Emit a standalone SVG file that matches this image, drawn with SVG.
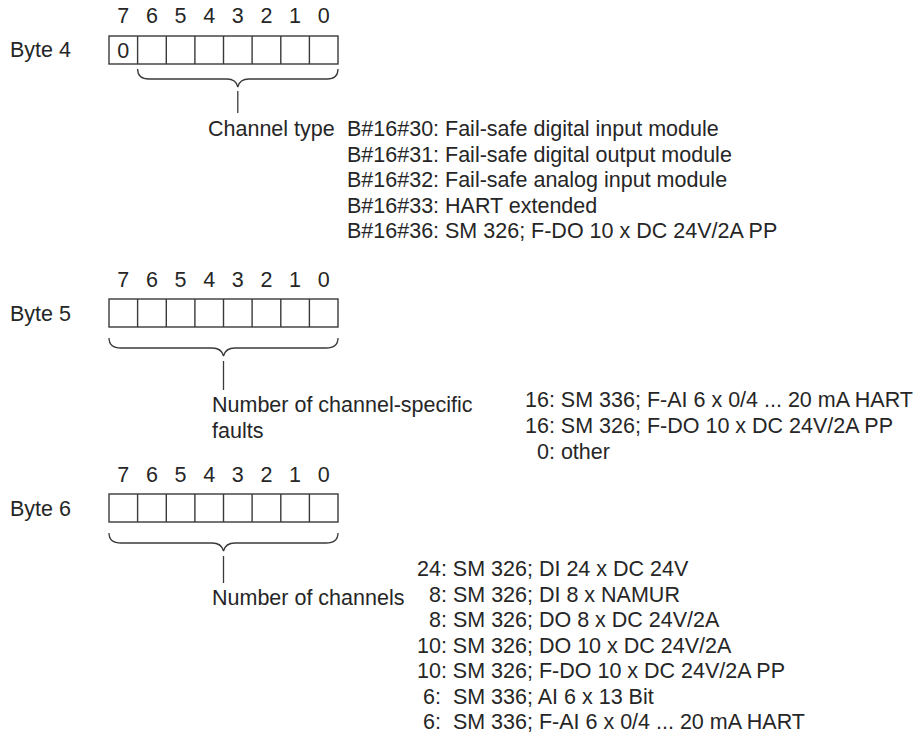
<svg xmlns="http://www.w3.org/2000/svg" width="919" height="737" viewBox="0 0 919 737">
<style>
text{font-family:"Liberation Sans",Arial,sans-serif;font-size:21.5px;fill:#262626}
.d{text-anchor:middle}
.box{fill:none;stroke:#3a3a3a;stroke-width:1.4}
.ln{fill:none;stroke:#3a3a3a;stroke-width:1.3}
</style>
<rect width="919" height="737" fill="#fff"/>
<g id="byte4">
<text x="10" y="57">Byte 4</text>
<g class="d"><text x="123.3" y="23">7</text><text x="151.9" y="23">6</text><text x="180.6" y="23">5</text><text x="209.2" y="23">4</text><text x="237.8" y="23">3</text><text x="266.4" y="23">2</text><text x="295.1" y="23">1</text><text x="323.7" y="23">0</text></g>
<rect class="box" x="109" y="36" width="229" height="28"/>
<path class="box" d="M137.6,36V64M166.3,36V64M194.9,36V64M223.5,36V64M252.1,36V64M280.8,36V64M309.4,36V64"/>
<text class="d" x="123.3" y="57.5">0</text>
</g>
<g id="byte4-desc">
<text x="208" y="136">Channel type</text>
<text x="347" y="136">B#16#30: Fail-safe digital input module</text>
<text x="347" y="161.5">B#16#31: Fail-safe digital output module</text>
<text x="347" y="187">B#16#32: Fail-safe analog input module</text>
<text x="347" y="212.5">B#16#33: HART extended</text>
<text x="347" y="238">B#16#36: SM 326; F-DO 10 x DC 24V/2A PP</text>
</g>
<g id="byte5">
<text x="10" y="320.5">Byte 5</text>
<g class="d"><text x="123.3" y="287">7</text><text x="151.9" y="287">6</text><text x="180.6" y="287">5</text><text x="209.2" y="287">4</text><text x="237.8" y="287">3</text><text x="266.4" y="287">2</text><text x="295.1" y="287">1</text><text x="323.7" y="287">0</text></g>
<rect class="box" x="109" y="299" width="229" height="28"/>
<path class="box" d="M137.6,299V327M166.3,299V327M194.9,299V327M223.5,299V327M252.1,299V327M280.8,299V327M309.4,299V327"/>
</g>
<g id="byte5-desc">
<text x="212" y="412">Number of channel-specific</text>
<text x="212" y="438">faults</text>
<text x="525" y="407">16: SM 336; F-AI 6 x 0/4 ... 20 mA HART</text>
<text x="525" y="433">16: SM 326; F-DO 10 x DC 24V/2A PP</text>
<text x="537" y="459">0: other</text>
</g>
<g id="byte6">
<text x="10" y="515.5">Byte 6</text>
<g class="d"><text x="123.3" y="482">7</text><text x="151.9" y="482">6</text><text x="180.6" y="482">5</text><text x="209.2" y="482">4</text><text x="237.8" y="482">3</text><text x="266.4" y="482">2</text><text x="295.1" y="482">1</text><text x="323.7" y="482">0</text></g>
<rect class="box" x="109" y="494" width="229" height="28"/>
<path class="box" d="M137.6,494V522M166.3,494V522M194.9,494V522M223.5,494V522M252.1,494V522M280.8,494V522M309.4,494V522"/>
</g>
<g id="byte6-desc">
<text x="212" y="605">Number of channels</text>
<text x="417" y="576">24: SM 326; DI 24 x DC 24V</text>
<text x="429" y="601.5">8: SM 326; DI 8 x NAMUR</text>
<text x="429" y="627">8: SM 326; DO 8 x DC 24V/2A</text>
<text x="417" y="652.5">10: SM 326; DO 10 x DC 24V/2A</text>
<text x="417" y="678">10: SM 326; F-DO 10 x DC 24V/2A PP</text>
<text x="423" y="703.5" xml:space="preserve">6:  SM 336; AI 6 x 13 Bit</text>
<text x="423" y="729" xml:space="preserve">6:  SM 336; F-AI 6 x 0/4 ... 20 mA HART</text>
</g>
<g id="connectors">
<path class="ln" d="M137.6,69 Q137.6,79 149,79 L227,79 Q236,79 237.8,87 Q239.6,79 249,79 L327,79 Q338,79 338,69"/>
<path class="ln" d="M237.8,91V113"/>
<path class="ln" d="M109,338 Q109,348 121,348 L212,348 Q221.5,348 223.5,356 Q225.5,348 235,348 L326,348 Q338,348 338,338"/>
<path class="ln" d="M223.5,361V390"/>
<path class="ln" d="M109,533 Q109,543 121,543 L212,543 Q221.5,543 223.5,551 Q225.5,543 235,543 L326,543 Q338,543 338,533"/>
<path class="ln" d="M223.5,556V583"/>
</g>
</svg>
